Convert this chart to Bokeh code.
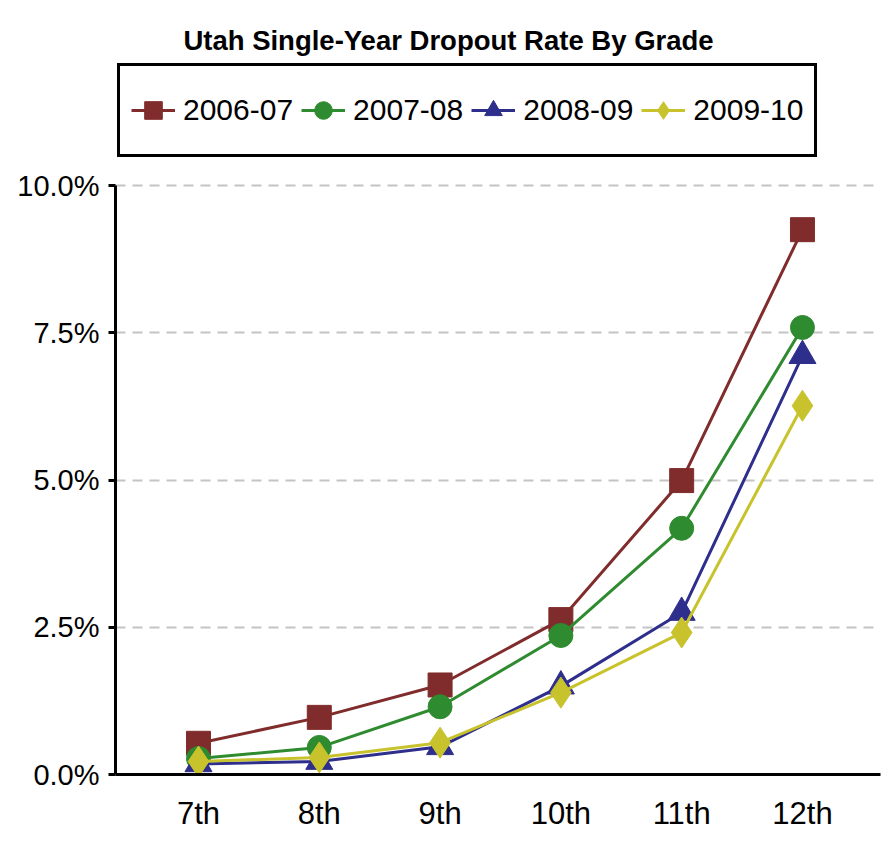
from bokeh.plotting import figure
from bokeh.models import (FixedTicker, PrintfTickFormatter, Legend, LegendItem,
                          Range1d, Label)
from bokeh.embed import file_html
from bokeh.resources import INLINE

# ---- data ----
grades = ["7th", "8th", "9th", "10th", "11th", "12th"]
years = ["2006-07", "2007-08", "2008-09", "2009-10"]
rate_2006_07 = [0.53, 0.97, 1.52, 2.63, 4.99, 9.25]
rate_2007_08 = [0.27, 0.46, 1.15, 2.36, 4.18, 7.59]
rate_2008_09 = [0.18, 0.22, 0.47, 1.50, 2.75, 7.11]
rate_2009_10 = [0.22, 0.29, 0.54, 1.39, 2.41, 6.26]
y_ticks = [0, 2.5, 5, 7.5, 10]
title_text = "Utah Single-Year Dropout Rate By Grade"

series = [rate_2006_07, rate_2007_08, rate_2008_09, rate_2009_10]
colors = ["#812c2c", "#2f8b2f", "#2e2e8c", "#c8c32d"]
markers = ["square", "circle", "triangle", "diamond"]
msizes = [24, 24, 27, 31]

FONT = "Liberation Sans"

xs = list(range(len(grades)))

# frame covers the top area too (title + legend live inside it);
# the y axis line is bounded to 0..10
p = figure(width=884, height=842, output_backend="svg", toolbar_location=None,
           title_location=None,
           x_range=Range1d(-0.687, 5.646), y_range=Range1d(0, 13.141),
           min_border_left=115, min_border_right=4, min_border_top=0,
           min_border_bottom=68)
p.outline_line_color = None
p.background_fill_color = "white"
p.border_fill_color = "white"

items = []
for name, vals, c, m, s in zip(years, series, colors, markers, msizes):
    lr = p.line(xs, vals, line_color=c, line_width=3)
    sr = p.scatter(xs, vals, marker=m, size=s, fill_color=c, line_color=c)
    items.append(LegendItem(label=name, renderers=[lr, sr]))

# axes
p.xaxis.ticker = FixedTicker(ticks=xs)
p.xaxis.major_label_overrides = {i: g for i, g in enumerate(grades)}
p.xaxis.major_tick_line_color = None
p.xaxis.minor_tick_line_color = None
p.xaxis.axis_line_color = "black"
p.xaxis.axis_line_width = 3
p.xaxis.major_label_text_font = FONT
p.xaxis.major_label_text_font_size = "31px"
p.xaxis.major_label_text_color = "black"
p.xaxis.major_label_standoff = 15

p.yaxis.ticker = FixedTicker(ticks=y_ticks)
p.yaxis.bounds = (0, 10)
p.yaxis.formatter = PrintfTickFormatter(format="%.1f%%")
p.yaxis.minor_tick_line_color = None
p.yaxis.axis_line_color = "black"
p.yaxis.axis_line_width = 3
p.yaxis.major_tick_line_color = "black"
p.yaxis.major_tick_line_width = 3
p.yaxis.major_tick_out = 7
p.yaxis.major_tick_in = 0
p.yaxis.major_label_text_font = FONT
p.yaxis.major_label_text_font_size = "29px"
p.yaxis.major_label_text_color = "black"
p.yaxis.major_label_standoff = 9

p.xgrid.grid_line_color = None
p.ygrid.ticker = FixedTicker(ticks=y_ticks)
p.ygrid.grid_line_color = "#c4c4c4"
p.ygrid.grid_line_width = 2
p.ygrid.grid_line_dash = "10 7"

legend = Legend(items=items, orientation="horizontal", location=(2, 617),
                glyph_width=44, glyph_height=66, label_standoff=8, spacing=8,
                padding=11, margin=0,
                label_text_font=FONT, label_text_font_size="30px",
                label_text_color="black",
                border_line_color="black", border_line_width=3,
                border_line_alpha=1,
                background_fill_color="white", background_fill_alpha=1)
p.add_layout(legend, "center")

title = Label(x=333, y=734, x_units="screen", y_units="screen", text=title_text,
              text_align="center", text_baseline="alphabetic",
              text_font=FONT, text_font_size="27.5px",
              text_font_style="bold", text_color="black")
p.add_layout(title)

open("out.html", "w").write(file_html(p, INLINE))
